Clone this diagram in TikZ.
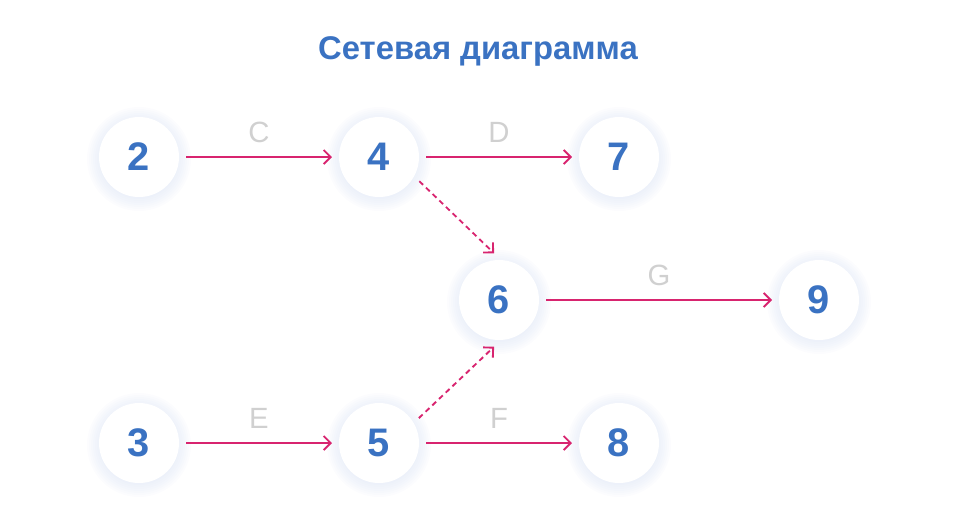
\documentclass[tikz,border=0pt]{standalone}
\usepackage{fontspec}
\setmainfont{Liberation Sans}
\usetikzlibrary{arrows.meta,backgrounds}

\definecolor{netblue}{HTML}{3A72C2}
\definecolor{netpink}{HTML}{D8246F}
\definecolor{netgray}{HTML}{D0D0D0}
\definecolor{netglow}{HTML}{D5DFF3}

\tikzset{
	event/.style={circle, fill=white, minimum size=2.4cm, inner sep=0pt, outer sep=0.21cm,
		font=\fontsize{34}{34}\selectfont\bfseries, text=netblue},
	work/.style={draw=netpink, line width=1.6pt, arrows={-Straight Barb[length=6pt,width=12pt,line width=1.6pt]}},
	dummy/.style={work, dash pattern=on 4.5pt off 3.4pt},
	jobname/.style={font=\fontsize{25}{25}\selectfont, text=netgray, above=8pt}
}

\begin{document}
\begin{tikzpicture}[x=0.03cm, y=-0.03cm]

	\useasboundingbox (0,0) rectangle (957,530);

	\node [font=\fontsize{28}{28}\selectfont\bfseries, text=netblue] (title) at (478,51) {Сетевая диаграмма};

	\node [event] (n2) at (139,157) {2};
	\node [event] (n4) at (379,157) {4};
	\node [event] (n7) at (619,157) {7};
	\node [event] (n6) at (499,300) {6};
	\node [event] (n9) at (819,300) {9};
	\node [event] (n3) at (139,443) {3};
	\node [event] (n5) at (379,443) {5};
	\node [event] (n8) at (619,443) {8};

	% soft glow behind the events
	\begin{pgfonlayer}{background}
		\foreach \n in {n2,n4,n7,n6,n9,n3,n5,n8}
			\foreach \r in {40,42,...,52}
				\fill [netglow, opacity=0.08] ([yshift=-0.06cm]\n.center) circle (\r*0.03cm);
	\end{pgfonlayer}

	\draw [work] (n2) -- (n4) node [midway, jobname] {C};
	\draw [work] (n4) -- (n7) node [midway, jobname] {D};
	\draw [work] (n6) -- (n9) node [midway, jobname] {G};
	\draw [work] (n3) -- (n5) node [midway, jobname] {E};
	\draw [work] (n5) -- (n8) node [midway, jobname] {F};
	\draw [dummy] (n4.-31) -- (n6.96);
	\draw [dummy] (n5.32) -- (n6.-96);

\end{tikzpicture}
\end{document}
